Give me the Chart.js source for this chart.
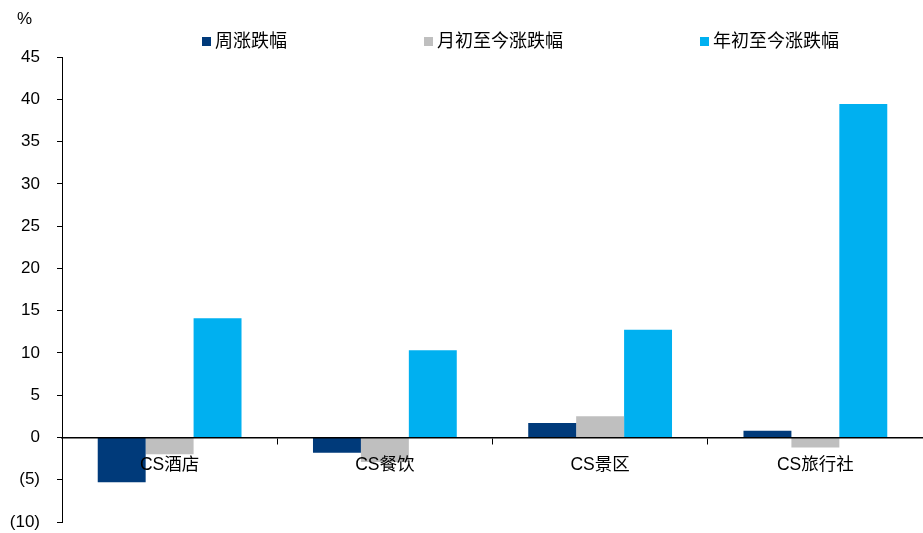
<!DOCTYPE html>
<html>
<head>
<meta charset="utf-8">
<script src="https://cdn.jsdelivr.net/npm/chart.js@4/dist/chart.umd.min.js"></script>
<style>
  html, body { margin: 0; padding: 0; background: #fff; }
  #wrap { position: relative; width: 923px; height: 533px; }
</style>
</head>
<body>
<div id="wrap"><canvas id="chart"></canvas></div>
<script>
// data
const CATEGORIES = ['CS酒店', 'CS餐饮', 'CS景区', 'CS旅行社'];
const SERIES_NAMES = ['周涨跌幅', '月初至今涨跌幅', '年初至今涨跌幅'];
const WEEK_CHG = [-5.3, -1.8, 1.7, 0.8];
const MTD_CHG = [-2.0, -2.9, 2.5, -1.2];
const YTD_CHG = [14.1, 10.3, 12.75, 39.45];
const Y_MIN = -10, Y_MAX = 45, Y_STEP = 5;

const NAVY = '#003A7A';
const GREY = '#BFBFBF';
const SKY = '#00B0F0';
const FONT = "'Liberation Sans', Arial, 'Noto Sans CJK SC', sans-serif";

Chart.defaults.font.family = FONT;
Chart.defaults.color = '#000';

// legend + unit label drawn by hand so the wide spacing matches
const legendPlugin = {
  id: 'manualLegend',
  afterDraw(chart) {
    const ctx = chart.ctx;
    const xs = [202, 424, 700];
    ctx.save();
    ctx.font = '18px ' + FONT;
    ctx.textBaseline = 'middle';
    chart.data.datasets.forEach((ds, i) => {
      ctx.fillStyle = ds.backgroundColor;
      ctx.fillRect(xs[i], 37, 9, 9);
      ctx.fillStyle = '#000';
      ctx.fillText(ds.label, xs[i] + 13, 42);
    });
    ctx.font = '17px ' + FONT;
    ctx.fillText('%', 17, 19);
    ctx.restore();
  }
};

const series = [WEEK_CHG, MTD_CHG, YTD_CHG];
const colors = [NAVY, GREY, SKY];

new Chart(document.getElementById('chart'), {
  type: 'bar',
  data: {
    labels: CATEGORIES,
    datasets: series.map((d, i) => ({
      label: SERIES_NAMES[i],
      data: d,
      backgroundColor: colors[i],
      borderWidth: 0,
      categoryPercentage: 0.668,
      barPercentage: 1.0,
    }))
  },
  options: {
    responsive: true,
    maintainAspectRatio: false,
    animation: false,
    layout: { padding: { top: 57, left: 0, right: 0, bottom: 11 } },
    plugins: {
      legend: { display: false },
      tooltip: { enabled: false },
    },
    scales: {
      x: {
        position: { y: 0 },
        afterFit: s => { s.height = 0; s.paddingTop = 0; s.paddingBottom = 0; },
        grid: { drawOnChartArea: false, drawTicks: true, tickLength: 6, color: '#000', lineWidth: 1, z: 1 },
        border: { color: '#000', width: 1.5, z: 1 },
        ticks: { font: { size: 17.5 }, padding: 11, color: '#000', z: 1 },
      },
      y: {
        min: Y_MIN,
        max: Y_MAX,
        afterFit: s => { s.width = 62; s.paddingTop = 0; s.paddingBottom = 0; },
        grid: { drawOnChartArea: false, drawTicks: true, tickLength: 5, color: '#000' },
        border: { color: '#000', width: 1 },
        ticks: {
          stepSize: Y_STEP,
          padding: 17,
          font: { size: 17 },
          color: '#000',
          callback: v => v < 0 ? '(' + Math.abs(v) + ')' : String(v),
        },
      },
    },
  },
  plugins: [legendPlugin],
});
</script>
</body>
</html>
